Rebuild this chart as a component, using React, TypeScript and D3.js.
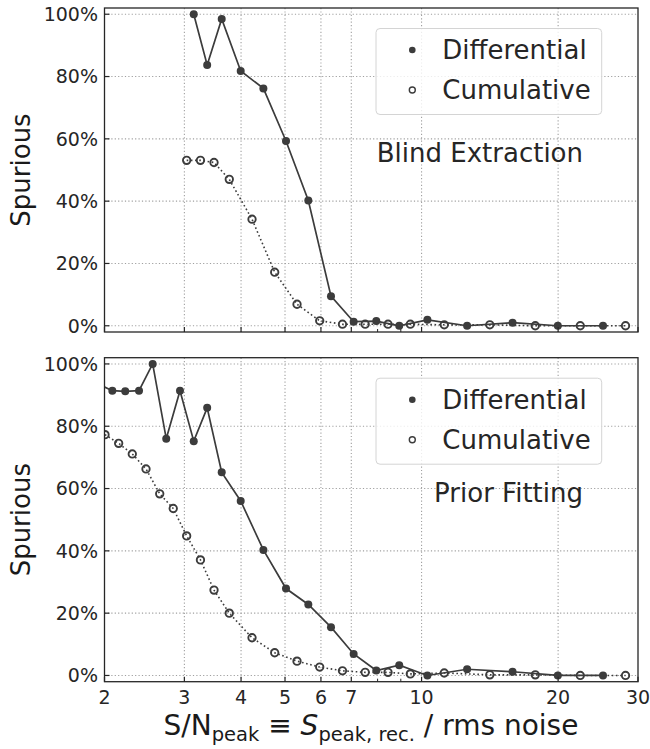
import * as d3 from "d3";

// bin centres (differential) and lower bin edges (cumulative), in S/N
const binCentres = [1.939, 2.081, 2.222, 2.383, 2.554, 2.736, 2.934, 3.146, 3.368, 3.626, 3.993, 4.48, 5.025, 5.628, 6.314, 7.084, 7.947, 8.928, 10.3, 12.6, 15.87, 19.97, 25.12];
const binEdges = [2.005, 2.149, 2.303, 2.469, 2.647, 2.835, 3.035, 3.255, 3.487, 3.768, 4.229, 4.745, 5.314, 5.963, 6.693, 7.511, 8.434, 9.445, 11.22, 14.14, 17.81, 22.38, 28.16];

// spurious fraction in percent (null = no value for that bin)
const blindDiff = [null, null, null, null, null, null, null, 100, 83.7, 98.5, 81.8, 76.2, 59.3, 40.2, 9.5, 1.3, 1.5, 0, 1.9, 0, 1.0, 0, 0];
const blindCum = [null, null, null, null, null, null, 53.1, 53.1, 52.4, 47, 34.2, 17.2, 6.9, 1.6, 0.5, 0.5, 0.5, 0.5, 0.3, 0.3, 0, 0, 0];
const priorDiff = [93.5, 91.4, 91.2, 91.4, 100, 76, 91.4, 75.2, 85.9, 65.2, 56, 40.3, 27.9, 22.8, 15.5, 6.9, 1.6, 3.3, 0, 2.0, 1.2, 0, 0];
const priorCum = [77.3, 74.5, 71.1, 66.3, 58.3, 53.6, 44.8, 37.1, 27.4, 20, 12.1, 7.3, 4.6, 2.7, 1.5, 1.0, 1.0, 0.5, 0.8, 0.2, 0.2, 0, 0];

const xMajor = [2, 3, 4, 5, 6, 7, 10, 20, 30];
const xMinor = [8, 9];
const yTicks = [0, 20, 40, 60, 80, 100];

const W = 650, H = 749;
const left = 104.5, right = 638;
const font = "DejaVu Sans, sans-serif";
const ink = "#3c3c3c";
const gridColor = "#a0a0a0";

const x = d3.scaleLog().domain([2, 30]).range([left, right]);

type PanelProps = {
    id: string;
    top: number;
    bottom: number;
    diff: (number | null)[];
    cum: (number | null)[];
    label: string;
    labelBaseline: number;
    showXLabels: boolean;
};

const Panel = ({ id, top, bottom, diff, cum, label, labelBaseline, showXLabels }: PanelProps) => {
    const y = d3.scaleLinear().domain([-2, 102]).range([bottom, top]);

    const diffPts = binCentres.map((v, i) => [v, diff[i]] as [number, number | null]).filter(d => d[1] !== null) as [number, number][];
    const cumPts = binEdges.map((v, i) => [v, cum[i]] as [number, number | null]).filter(d => d[1] !== null) as [number, number][];

    const line = d3.line<[number, number]>().x(d => x(d[0])).y(d => y(d[1]));

    const lgTop = top + 20.5;

    return (
        <g>
            <defs>
                <clipPath id={id}>
                    <rect x={left} y={top} width={right - left} height={bottom - top} />
                </clipPath>
            </defs>

            {/* grid */}
            {yTicks.map(t => (
                <line key={"gy" + t} x1={left} x2={right} y1={y(t)} y2={y(t)}
                    stroke={gridColor} strokeWidth={1.1} strokeDasharray="1.2,2.2" />
            ))}
            {xMajor.slice(1, -1).map(t => (
                <line key={"gx" + t} x1={x(t)} x2={x(t)} y1={top} y2={bottom}
                    stroke={gridColor} strokeWidth={1.1} strokeDasharray="1.2,2.2" />
            ))}

            {/* data */}
            <g clipPath={`url(#${id})`}>
                <path d={line(cumPts)!} fill="none" stroke={ink} strokeWidth={1.6} strokeDasharray="1.6,2.6" />
                {cumPts.map((d, i) => (
                    <circle key={"c" + i} cx={x(d[0])} cy={y(d[1])} r={3.7} fill="none" stroke={ink} strokeWidth={1.9} />
                ))}
                <path d={line(diffPts)!} fill="none" stroke={ink} strokeWidth={1.7} />
                {diffPts.map((d, i) => (
                    <circle key={"d" + i} cx={x(d[0])} cy={y(d[1])} r={4} fill={ink} />
                ))}
            </g>

            {/* legend */}
            <rect x={376} y={lgTop} width={225.7} height={86} rx={4} fill="white" fillOpacity={0.8} stroke="#d4d4d4" strokeWidth={1} />
            <circle cx={412.3} cy={top + 42} r={3.3} fill={ink} />
            <circle cx={412.3} cy={top + 82} r={3} fill="none" stroke={ink} strokeWidth={1.4} />
            <text x={442.3} y={top + 51.3} fontFamily={font} fontSize={26} fill="#262626">Differential</text>
            <text x={442.3} y={top + 91} fontFamily={font} fontSize={26} fill="#262626">Cumulative</text>

            <text x={583} y={top + labelBaseline} textAnchor="end" fontFamily={font} fontSize={26} fill="#262626">{label}</text>

            {/* ticks */}
            {yTicks.map(t => (
                <g key={"ty" + t}>
                    <line x1={left} x2={left + 5} y1={y(t)} y2={y(t)} stroke="#262626" strokeWidth={1.2} />
                    <text x={98} y={y(t)} dy="0.36em" textAnchor="end" fontFamily={font} fontSize={19} fill="#262626">{t}%</text>
                </g>
            ))}
            {xMajor.map(t => (
                <line key={"tx" + t} x1={x(t)} x2={x(t)} y1={bottom} y2={bottom - 5} stroke="#262626" strokeWidth={1.2} />
            ))}
            {xMinor.map(t => (
                <line key={"tm" + t} x1={x(t)} x2={x(t)} y1={bottom} y2={bottom - 3} stroke="#262626" strokeWidth={1} />
            ))}
            {showXLabels && xMajor.map(t => (
                <text key={"lx" + t} x={x(t)} y={bottom + 22.5} textAnchor="middle" fontFamily={font} fontSize={19} fill="#262626">{t}</text>
            ))}

            {/* frame */}
            <rect x={left} y={top} width={right - left} height={bottom - top} fill="none" stroke="#262626" strokeWidth={1.3} />

            <text transform={`translate(29.5,${(top + bottom) / 2}) rotate(-90)`} textAnchor="middle"
                fontFamily={font} fontSize={26} fill="#1a1a1a">Spurious</text>
        </g>
    );
};

export default function App() {
    return (
        <svg width={W} height={H} style={{ position: "absolute", left: 0, top: 0, background: "white" }}>
            <Panel id="clipA" top={8} bottom={332} diff={blindDiff} cum={blindCum}
                label="Blind Extraction" labelBaseline={153.7} showXLabels={false} />
            <Panel id="clipB" top={357.7} bottom={681.7} diff={priorDiff} cum={priorCum}
                label="Prior Fitting" labelBaseline={144} showXLabels={true} />
            <text x={371} y={735} textAnchor="middle" fontFamily={font} fontSize={28} fill="#1a1a1a">
                S/N<tspan fontSize={19.5} dy={6}>peak</tspan>
                <tspan dy={-6}> ≡ </tspan>
                <tspan fontStyle="italic">S</tspan>
                <tspan fontSize={19.5} dy={6}>peak, rec.</tspan>
                <tspan dy={-6}> / rms noise</tspan>
            </text>
        </svg>
    );
}
